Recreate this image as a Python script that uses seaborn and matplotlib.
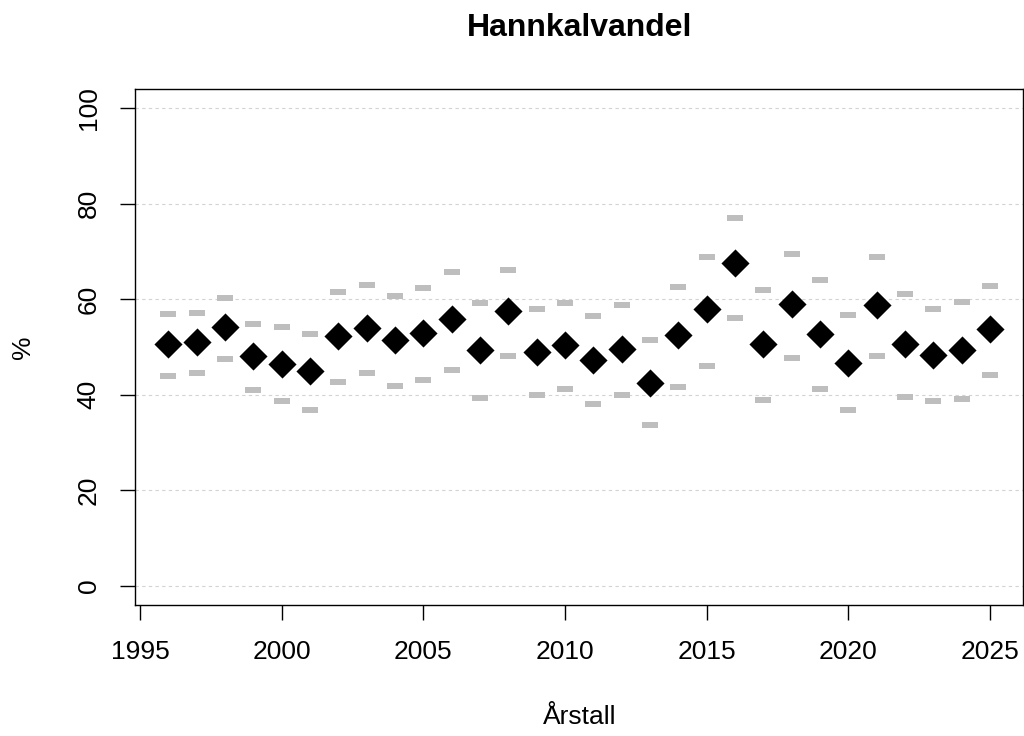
import pandas as pd
import matplotlib
matplotlib.use("Agg")
import matplotlib.pyplot as plt
import seaborn as sns

# values
years = list(range(1996, 2026))
andel = [50.6, 51.0, 54.1, 48.1, 46.5, 44.9, 52.3, 54.0, 51.4, 53.0,
         55.9, 49.4, 57.5, 49.0, 50.4, 47.3, 49.5, 42.4, 52.5, 57.9,
         67.5, 50.6, 59.1, 52.8, 46.7, 58.9, 50.6, 48.4, 49.4, 53.7]
ovre = [57.0, 57.1, 60.3, 54.9, 54.1, 52.8, 61.5, 63.0, 60.6, 62.3,
        65.8, 59.2, 66.1, 58.0, 59.2, 56.4, 58.7, 51.5, 62.6, 68.8,
        77.0, 62.0, 69.4, 64.0, 56.6, 68.8, 61.2, 58.0, 59.4, 62.8]
nedre = [43.9, 44.6, 47.4, 41.0, 38.8, 36.8, 42.7, 44.6, 41.8, 43.0,
         45.1, 39.4, 48.1, 40.0, 41.3, 38.1, 40.0, 33.6, 41.6, 46.0,
         56.1, 39.0, 47.8, 41.2, 36.8, 48.1, 39.6, 38.7, 39.2, 44.2]
y_ticks = [0, 20, 40, 60, 80, 100]
x_ticks = [1995, 2000, 2005, 2010, 2015, 2020, 2025]

df = pd.DataFrame({'Årstall': years, 'andel': andel, 'ovre': ovre, 'nedre': nedre})

sns.set_style("white")
plt.rcParams['font.family'] = ['Liberation Sans', 'DejaVu Sans']
plt.rcParams['text.color'] = 'black'
plt.rcParams['axes.labelcolor'] = 'black'
plt.rcParams['xtick.color'] = 'black'
plt.rcParams['ytick.color'] = 'black'

fig = plt.figure(figsize=(10.24, 7.36), dpi=100)
ax = fig.add_axes([0.1323, 0.178, 0.8666, 0.701])

# dashed horizontal grid
for v in y_ticks:
    ax.axhline(v, color='#d3d3d3', linewidth=0.8, linestyle=(0, (3, 3)), zorder=0)

# short grey bars for the interval limits
dash = [(-1, -0.32), (1, -0.32), (1, 0.32), (-1, 0.32)]
sns.scatterplot(data=df, x='Årstall', y='ovre', marker=dash, s=135,
                color='#bebebe', linewidth=0, ax=ax, zorder=2)
sns.scatterplot(data=df, x='Årstall', y='nedre', marker=dash, s=135,
                color='#bebebe', linewidth=0, ax=ax, zorder=2)

# the estimates
sns.scatterplot(data=df, x='Årstall', y='andel', marker='D', s=205,
                color='black', linewidth=0, ax=ax, zorder=3)

ax.set_xlim(1994.84, 2026.16)
ax.set_ylim(-4, 104)
ax.set_xticks(x_ticks)
ax.set_yticks(y_ticks)

for sp in ax.spines.values():
    sp.set_visible(True)
    sp.set_color('black')
    sp.set_linewidth(1.0)

ax.tick_params(axis='both', direction='out', length=11, width=1.0,
               color='black', labelcolor='black', labelsize=19, pad=14,
               left=True, bottom=True)
ax.tick_params(axis='y', labelrotation=90)
for lab in ax.get_yticklabels():
    lab.set_va('center')

ax.set_title('Hannkalvandel', fontsize=23, fontweight='bold', pad=38, color='black')
ax.set_xlabel('Årstall', fontsize=19, labelpad=30)
ax.set_ylabel('%', fontsize=19, labelpad=30)

fig.savefig('out.png', dpi=100)
